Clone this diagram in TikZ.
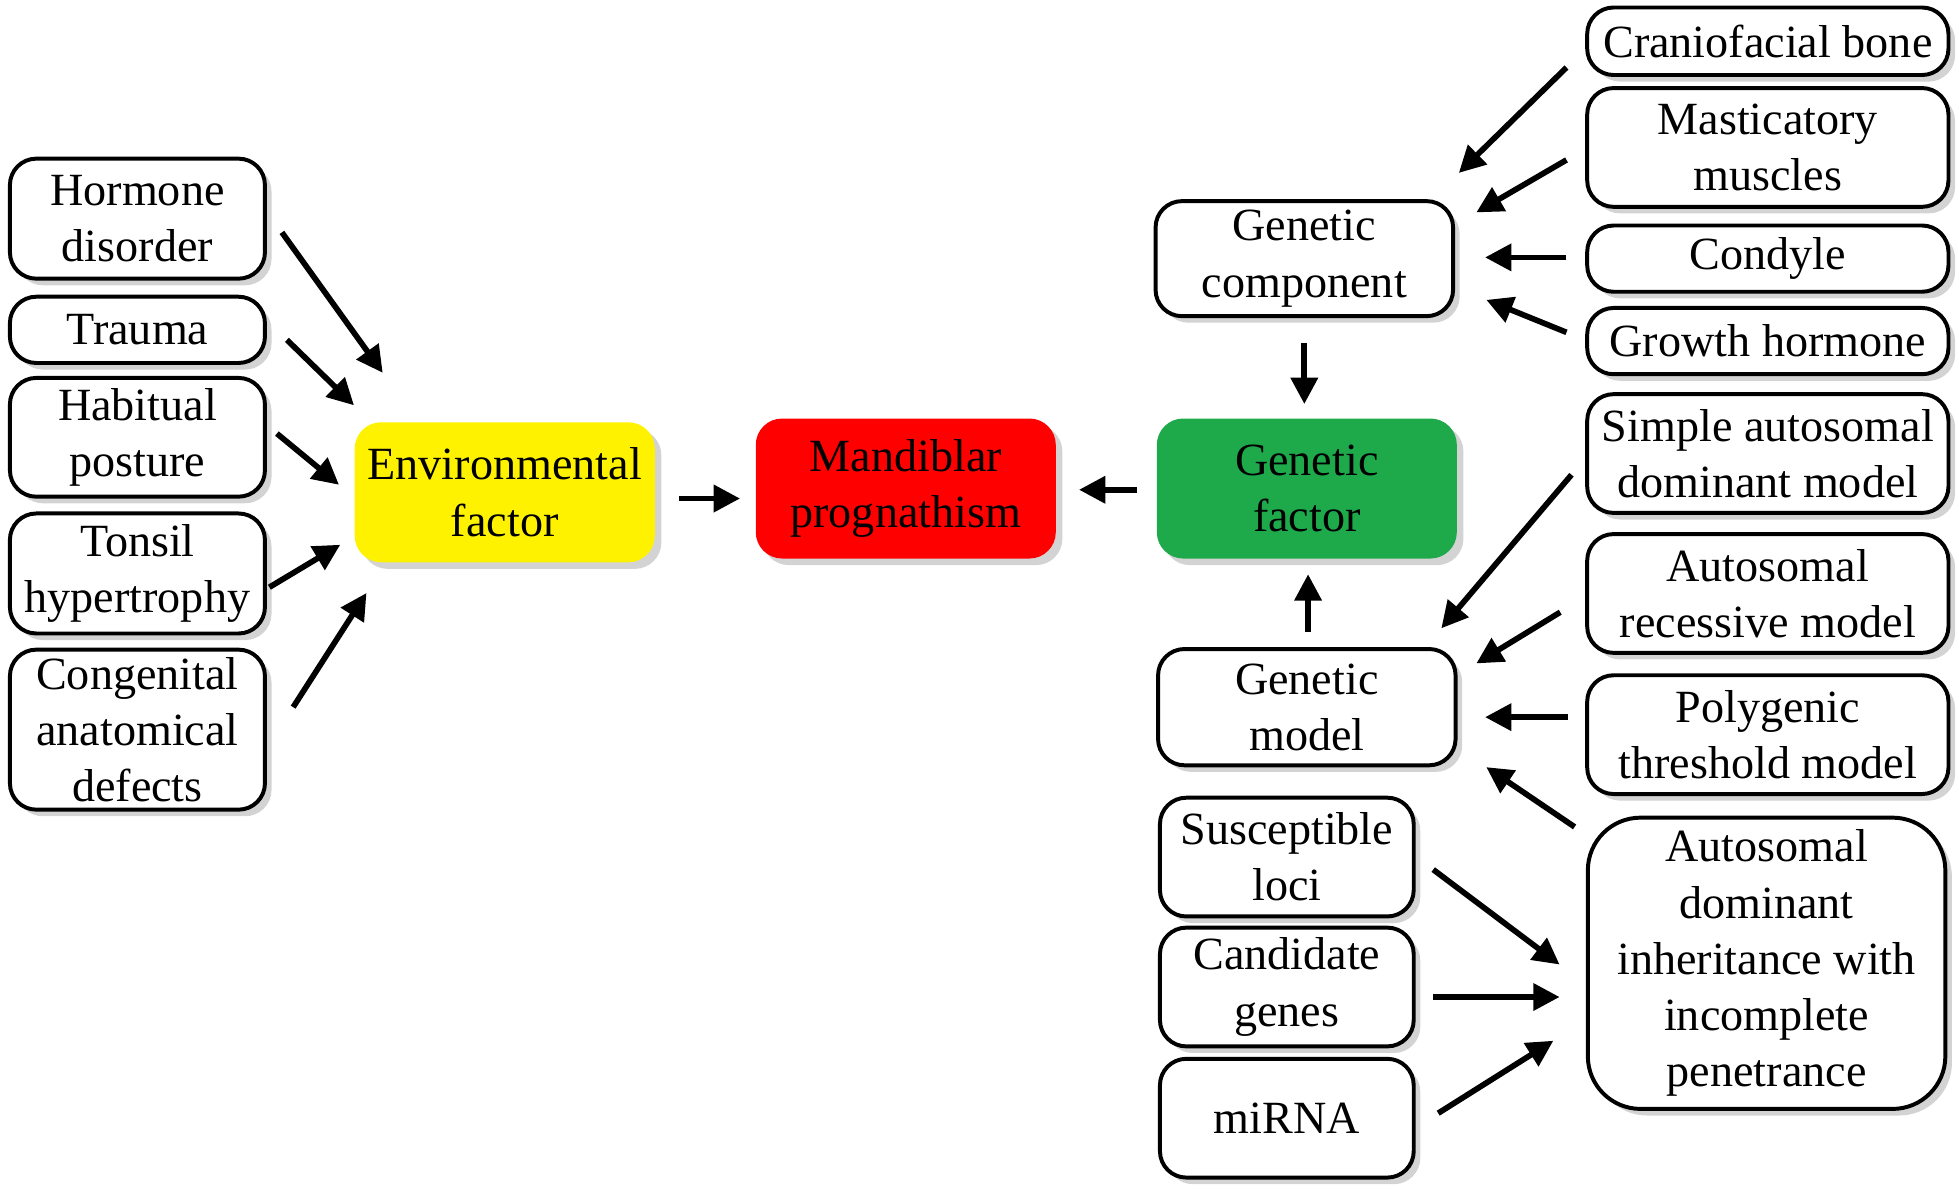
\documentclass[tikz,border=0pt]{standalone}
\usepackage{fontspec}
\setmainfont{Liberation Serif}
\usetikzlibrary{calc,shadows,arrows.meta}

\begin{document}
\begin{tikzpicture}[x=0.01cm, y=-0.01cm,
        every node/.style={font=\fontsize{10.5}{12.8}\selectfont},
        arr/.style={-{Triangle[length=6pt,width=6pt]}, line width=1.3pt}]
    \tikzstyle{boxStyle} = [draw=black, line width=0.9pt, rounded corners=6pt,
        fill=white, align=center, inner sep=0pt,
        drop shadow={shadow xshift=1.5pt, shadow yshift=-1.5pt, opacity=0.35}]
    \tikzstyle{mainStyle} = [boxStyle, draw=none, minimum width=2.4cm, minimum height=1.12cm]
    \useasboundingbox (0,0) rectangle (1568,953);
    % left column
    \node[boxStyle, minimum width=2.04cm, minimum height=0.96cm] (hormone) at (110,175) {Hormone\\disorder};
    \node[boxStyle, minimum width=2.04cm, minimum height=0.53cm] (trauma) at (110,264) {Trauma};
    \node[boxStyle, minimum width=2.04cm, minimum height=0.95cm] (habitual) at (110,350) {Habitual\\posture};
    \node[boxStyle, minimum width=2.04cm, minimum height=0.96cm] (tonsil) at (110,459) {Tonsil\\hypertrophy};
    \node[boxStyle, minimum width=2.04cm, minimum height=1.28cm] (congenital) at (110,584) {Congenital\\anatomical\\defects};
    % main row
    \node[mainStyle, fill=yellow] (env) at (404,394) {Environmental\\factor};
    \node[mainStyle, fill=red] (mand) at (725,391) {Mandiblar\\prognathism};
    \node[mainStyle, fill={rgb,255:red,30;green,170;blue,75}] (gfac) at (1046,391) {Genetic\\factor};
    \node[boxStyle, minimum width=2.38cm, minimum height=0.92cm] (gcomp) at (1044,207) {Genetic\\component};
    \node[boxStyle, minimum width=2.38cm, minimum height=0.93cm] (gmodel) at (1046,566) {Genetic\\model};
    % right column
    \node[boxStyle, minimum width=2.89cm, minimum height=0.54cm] (cranio) at (1415,33) {Craniofacial bone};
    \node[boxStyle, minimum width=2.89cm, minimum height=0.95cm] (mast) at (1415,118) {Masticatory\\muscles};
    \node[boxStyle, minimum width=2.89cm, minimum height=0.53cm] (condyle) at (1415,207) {Condyle};
    \node[boxStyle, minimum width=2.89cm, minimum height=0.53cm] (growth) at (1415,273) {Growth hormone};
    \node[boxStyle, minimum width=2.89cm, minimum height=0.95cm] (simple) at (1415,363) {Simple autosomal\\dominant model};
    \node[boxStyle, minimum width=2.89cm, minimum height=0.95cm] (recessive) at (1415,475) {Autosomal\\recessive model};
    \node[boxStyle, minimum width=2.89cm, minimum height=0.95cm] (poly) at (1415,588) {Polygenic\\threshold model};
    \node[boxStyle, minimum width=2.86cm, minimum height=2.33cm, rounded corners=12pt] (adi) at (1414,771) {Autosomal\\dominant\\inheritance with\\incomplete\\penetrance};
    % bottom middle
    \node[boxStyle, minimum width=2.03cm, minimum height=0.95cm] (susc) at (1030,686) {Susceptible\\loci};
    \node[boxStyle, minimum width=2.03cm, minimum height=0.95cm] (cand) at (1030,790) {Candidate\\genes};
    \node[boxStyle, minimum width=2.03cm, minimum height=0.95cm] (mirna) at (1030,895) {miRNA};
    % arrows
    \draw[arr] ($(hormone.east)+(12,11)$) -- ($(env.north west)+(24,-38)$);
    \draw[arr] ($(trauma.east)+(16,8)$) -- ($(env.north west)+(1,-12)$);
    \draw[arr] ($(habitual.east)+(8,-3)$) -- ($(env.west)+(-11,-6)$);
    \draw[arr] ($(tonsil.east)+(2,11)$) -- ($(env.west)+(-10,42)$);
    \draw[arr] ($(congenital.east)+(21,-18)$) -- ($(env.south west)+(11,23)$);
    \draw[arr] ($(env.east)+(18,5)$) -- ($(mand.west)+(-11,8)$);
    \draw[arr] ($(gfac.west)+(-14,1)$) -- ($(mand.east)+(17,1)$);
    \draw[arr] ($(gcomp.south)+(0,20)$) -- ($(gfac.north)+(-2,-10)$);
    \draw[arr] ($(gmodel.north)+(1,-12)$) -- ($(gfac.south)+(1,11)$);
    \draw[arr] ($(cranio.west)+(-15,21)$) -- ($(gcomp.north east)+(3,-21)$);
    \draw[arr] ($(mast.west)+(-15,10)$) -- ($(gcomp.east)+(17,-37)$);
    \draw[arr] ($(condyle.west)+(-15,-1)$) -- ($(gcomp.east)+(24,-1)$);
    \draw[arr] ($(growth.west)+(-15,-7)$) -- ($(gcomp.east)+(25,33)$);
    \draw[arr] ($(simple.west)+(-11,17)$) -- ($(gmodel.north east)+(-13,-15)$);
    \draw[arr] ($(recessive.west)+(-20,15)$) -- ($(gmodel.east)+(15,-35)$);
    \draw[arr] ($(poly.west)+(-14,-14)$) -- ($(gmodel.east)+(22,8)$);
    \draw[arr] ($(adi.north west)+(-9,9)$) -- ($(gmodel.east)+(23,48)$);
    \draw[arr] ($(susc.east)+(14,10)$) -- ($(adi.west)+(-21,1)$);
    \draw[arr] ($(cand.east)+(14,8)$) -- ($(adi.west)+(-21,27)$);
    \draw[arr] ($(mirna.east)+(18,-4)$) -- ($(adi.west)+(-26,62)$);
\end{tikzpicture}
\end{document}
